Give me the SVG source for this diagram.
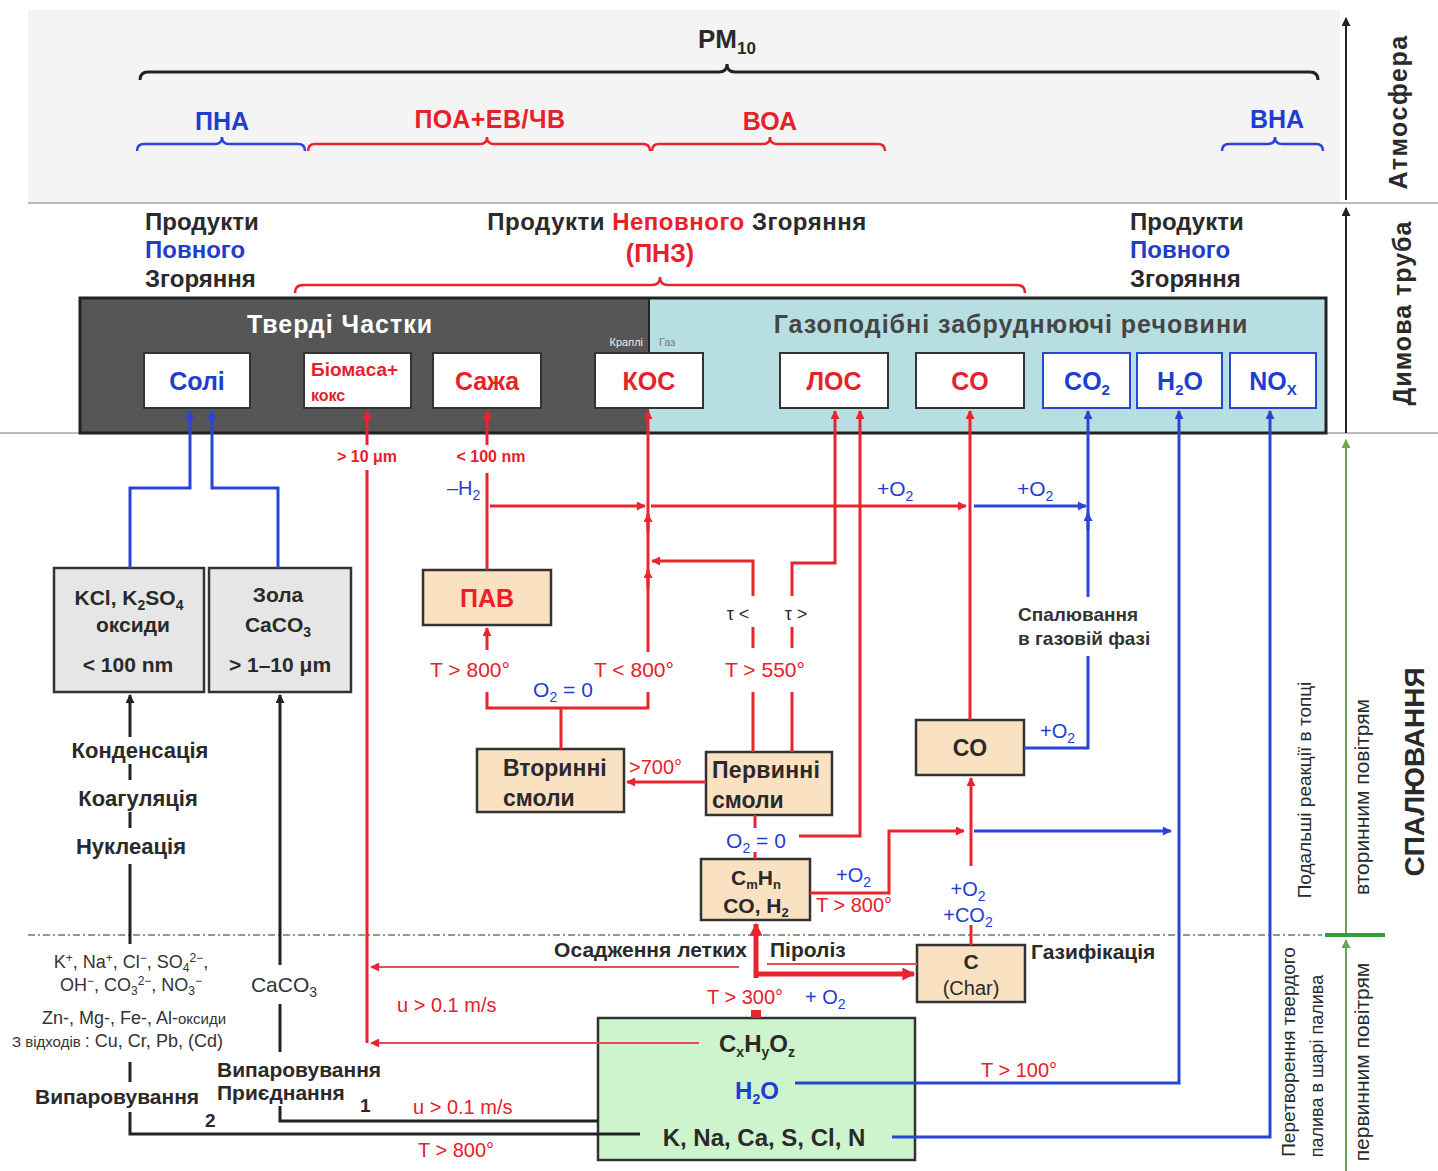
<svg xmlns="http://www.w3.org/2000/svg" width="1438" height="1171" viewBox="0 0 1438 1171">
<style>
text{font-family:"Liberation Sans",Arial,sans-serif}
.b{font-weight:bold}
.r{fill:#e8202a}
.u{fill:#1f3dcf}
.k{fill:#2a2a2a}
.w{fill:#fff}
.lr{fill:none;stroke:#e8252e;stroke-width:3}
.lrt{fill:none;stroke:#e8252e;stroke-width:5}
.lb{fill:none;stroke:#2b44d8;stroke-width:3}
.lk{fill:none;stroke:#222;stroke-width:3}
.lp{fill:none;stroke:#e0505a;stroke-width:2}
.node{fill:#fff;stroke:#333;stroke-width:2}
.nodeb{fill:#fff;stroke:#2b44d8;stroke-width:2}
.peach{fill:#f9e1c1;stroke:#333;stroke-width:2.5}
.grey{fill:#e6e6e6;stroke:#333;stroke-width:2.5}
</style>
<defs>
<marker id="aR" viewBox="0 0 10 10" refX="9" refY="5" markerWidth="11" markerHeight="9" markerUnits="userSpaceOnUse" orient="auto"><path d="M0,0 L10,5 L0,10 z" fill="#e8252e"/></marker>
<marker id="aR2" viewBox="0 0 10 10" refX="9" refY="5" markerWidth="15" markerHeight="13" markerUnits="userSpaceOnUse" orient="auto"><path d="M0,0 L10,5 L0,10 z" fill="#e8252e"/></marker>
<marker id="aB" viewBox="0 0 10 10" refX="9" refY="5" markerWidth="11" markerHeight="9" markerUnits="userSpaceOnUse" orient="auto"><path d="M0,0 L10,5 L0,10 z" fill="#2b44d8"/></marker>
<marker id="aK" viewBox="0 0 10 10" refX="9" refY="5" markerWidth="11" markerHeight="9" markerUnits="userSpaceOnUse" orient="auto"><path d="M0,0 L10,5 L0,10 z" fill="#222"/></marker>
<marker id="aG" viewBox="0 0 10 10" refX="9" refY="5" markerWidth="11" markerHeight="9" markerUnits="userSpaceOnUse" orient="auto"><path d="M0,0 L10,5 L0,10 z" fill="#6aa84f"/></marker>
</defs>

<rect x="0" y="0" width="1438" height="1171" fill="#fff"/>
<rect x="28" y="10" width="1312" height="192" fill="#f4f4f4"/>
<line x1="28" y1="203" x2="1438" y2="203" stroke="#bbb" stroke-width="2"/>
<line x1="0" y1="433" x2="1438" y2="433" stroke="#bbb" stroke-width="2"/>
<line x1="28" y1="935" x2="1322" y2="935" stroke="#8a9f8a" stroke-width="2" stroke-dasharray="7 3 2 3"/>

<!-- right axis -->
<g id="axis">
<line x1="1346" y1="200" x2="1346" y2="18" stroke="#222" stroke-width="2" marker-end="url(#aK)"/>
<line x1="1346" y1="433" x2="1346" y2="208" stroke="#222" stroke-width="2" marker-end="url(#aK)"/>
<line x1="1346" y1="933" x2="1346" y2="440" stroke="#6aa84f" stroke-width="2" marker-end="url(#aG)"/>
<line x1="1346" y1="1171" x2="1346" y2="940" stroke="#6aa84f" stroke-width="2" marker-end="url(#aG)"/>
<line x1="1325" y1="935" x2="1385" y2="935" stroke="#2e9e3e" stroke-width="4"/>
<text transform="translate(1407,112) rotate(-90)" text-anchor="middle" class="b k" font-size="25" letter-spacing="1.5">Атмосфера</text>
<text transform="translate(1411,313) rotate(-90)" text-anchor="middle" class="b k" font-size="25" letter-spacing="1">Димова труба</text>
<text transform="translate(1424,772) rotate(-90)" text-anchor="middle" class="b k" font-size="28">СПАЛЮВАННЯ</text>
<text transform="translate(1369,797) rotate(-90)" text-anchor="middle" class="k" font-size="21">вторинним повітрям</text>
<text transform="translate(1311,790) rotate(-90)" text-anchor="middle" class="k" font-size="19">Подальші реакції в топці</text>
<text transform="translate(1295,1052) rotate(-90)" text-anchor="middle" class="k" font-size="19">Перетворення твердого</text>
<text transform="translate(1323,1066) rotate(-90)" text-anchor="middle" class="k" font-size="18">палива в шарі палива</text>
<text transform="translate(1369,1062) rotate(-90)" text-anchor="middle" class="k" font-size="21">первинним повітрям</text>
</g>

<!-- atmosphere braces -->
<g id="atmosphere">
<text x="727" y="48" text-anchor="middle" class="b k" font-size="26">PM<tspan dy="6" font-size="17">10</tspan></text>
<path d="M140,80 Q140,72 148,72 L719,72 Q727,72 727,64 Q727,72 735,72 L1310,72 Q1318,72 1318,80" fill="none" stroke="#222" stroke-width="3"/>
<text x="222" y="130" text-anchor="middle" class="b u" font-size="25">ПНА</text>
<path d="M137,151 Q137,144 144,144 L215,144 Q222,144 222,137 Q222,144 229,144 L298,144 Q305,144 305,151" fill="none" stroke="#2b44d8" stroke-width="2.5"/>
<text x="490" y="128" text-anchor="middle" class="b r" font-size="25" letter-spacing="0.5">ПОА+ЕВ/ЧВ</text>
<path d="M308,151 Q308,144 315,144 L480,144 Q487,144 487,137 Q487,144 494,144 L643,144 Q650,144 650,151" fill="none" stroke="#e8252e" stroke-width="2.5"/>
<text x="770" y="130" text-anchor="middle" class="b r" font-size="25">ВОА</text>
<path d="M652,151 Q652,144 659,144 L763,144 Q770,144 770,137 Q770,144 777,144 L878,144 Q885,144 885,151" fill="none" stroke="#e8252e" stroke-width="2.5"/>
<text x="1277" y="128" text-anchor="middle" class="b u" font-size="25">ВНА</text>
<path d="M1222,151 Q1222,144 1229,144 L1268,144 Q1275,144 1275,137 Q1275,144 1282,144 L1316,144 Q1323,144 1323,151" fill="none" stroke="#2b44d8" stroke-width="2.5"/>
</g>

<!-- chimney labels -->
<g id="chimney-labels">
<text x="145" y="230" class="b k" font-size="24">Продукти</text>
<text x="145" y="258" class="b u" font-size="24">Повного</text>
<text x="145" y="287" class="b k" font-size="24">Згоряння</text>
<text x="677" y="230" text-anchor="middle" class="b k" font-size="24" letter-spacing="0.5">Продукти <tspan class="r">Неповного</tspan> Згоряння</text>
<text x="660" y="262" text-anchor="middle" class="b r" font-size="25">(ПНЗ)</text>
<path d="M295,293 Q295,285 303,285 L652,285 Q660,285 660,277 Q660,285 668,285 L1017,285 Q1025,285 1025,293" fill="none" stroke="#e8252e" stroke-width="2.5"/>
<text x="1130" y="230" class="b k" font-size="24">Продукти</text>
<text x="1130" y="258" class="b u" font-size="24">Повного</text>
<text x="1130" y="287" class="b k" font-size="24">Згоряння</text>
</g>

<!-- big box -->
<g id="stack-box">
<rect x="80" y="298" width="569" height="135" fill="#565656"/>
<rect x="649" y="298" width="677" height="135" fill="#b7dfe2"/>
<rect x="80" y="298" width="1246" height="135" fill="none" stroke="#222" stroke-width="3"/>
<line x1="649" y1="298" x2="649" y2="353" stroke="#222" stroke-width="2"/>
<text x="340" y="333" text-anchor="middle" class="b w" font-size="25" letter-spacing="1">Тверді Частки</text>
<text x="1011" y="333" text-anchor="middle" class="b" fill="#454545" font-size="25" letter-spacing="1">Газоподібні забруднюючі речовини</text>
<text x="643" y="346" text-anchor="end" fill="#eee" font-size="11">Краплі</text>
<text x="659" y="346" fill="#777" font-size="11">Газ</text>
</g>

<g id="n-soli"><rect class="node" x="144" y="353" width="106" height="55"/><text x="197" y="390" text-anchor="middle" class="b u" font-size="25">Солі</text></g>
<g id="n-biomasa"><rect class="node" x="304" y="353" width="107" height="55"/><text x="311" y="376" class="b r" font-size="19">Біомаса+</text><text x="311" y="401" class="b r" font-size="16">кокс</text></g>
<g id="n-sazha"><rect class="node" x="433" y="353" width="108" height="55"/><text x="487" y="390" text-anchor="middle" class="b r" font-size="25">Сажа</text></g>
<g id="n-kos"><rect class="node" x="595" y="353" width="108" height="55"/><text x="649" y="390" text-anchor="middle" class="b r" font-size="25">КОС</text></g>
<g id="n-los"><rect class="node" x="780" y="353" width="108" height="55"/><text x="834" y="390" text-anchor="middle" class="b r" font-size="25">ЛОС</text></g>
<g id="n-co-top"><rect class="node" x="916" y="353" width="108" height="55"/><text x="970" y="390" text-anchor="middle" class="b r" font-size="25">CO</text></g>
<g id="n-co2"><rect class="nodeb" x="1043" y="353" width="87" height="55"/><text x="1087" y="390" text-anchor="middle" class="b u" font-size="25">CO<tspan dy="5" font-size="15">2</tspan></text></g>
<g id="n-h2o"><rect class="nodeb" x="1137" y="353" width="85" height="55"/><text x="1180" y="390" text-anchor="middle" class="b u" font-size="25">H<tspan dy="5" font-size="15">2</tspan><tspan dy="-5">O</tspan></text></g>
<g id="n-nox"><rect class="nodeb" x="1230" y="353" width="86" height="55"/><text x="1273" y="390" text-anchor="middle" class="b u" font-size="25">NO<tspan dy="5" font-size="15">X</tspan></text></g>

<!-- lower nodes -->
<g id="n-kcl"><rect class="grey" x="54" y="568" width="150" height="124"/>
<text x="129" y="605" text-anchor="middle" class="b k" font-size="21">KCl, K<tspan dy="5" font-size="14">2</tspan><tspan dy="-5">SO</tspan><tspan dy="5" font-size="14">4</tspan></text>
<text x="133" y="632" text-anchor="middle" class="b k" font-size="21">оксиди</text>
<text x="128" y="672" text-anchor="middle" class="b k" font-size="21">&lt; 100 nm</text></g>
<g id="n-zola"><rect class="grey" x="209" y="568" width="142" height="124"/>
<text x="278" y="602" text-anchor="middle" class="b k" font-size="21">Зола</text>
<text x="278" y="632" text-anchor="middle" class="b k" font-size="21">CaCO<tspan dy="5" font-size="14">3</tspan></text>
<text x="280" y="672" text-anchor="middle" class="b k" font-size="21">&gt; 1–10 μm</text></g>
<g id="n-pav"><rect class="peach" x="423" y="570" width="128" height="55"/><text x="487" y="607" text-anchor="middle" class="b r" font-size="25">ПАВ</text></g>
<g id="n-vtor"><rect class="peach" x="477" y="749" width="147" height="63"/><text x="503" y="776" class="b k" font-size="23">Вторинні</text><text x="503" y="806" class="b k" font-size="23">смоли</text></g>
<g id="n-perv"><rect class="peach" x="706" y="752" width="126" height="63"/><text x="712" y="778" class="b k" font-size="23" letter-spacing="0.3">Первинні</text><text x="712" y="808" class="b k" font-size="23">смоли</text></g>
<g id="n-co-mid"><rect class="peach" x="916" y="720" width="108" height="55"/><text x="970" y="756" text-anchor="middle" class="b k" font-size="23">CO</text></g>
<g id="n-cmhn"><rect class="peach" x="701" y="859" width="109" height="61"/>
<text x="756" y="885" text-anchor="middle" class="b k" font-size="21">C<tspan dy="4" font-size="13">m</tspan><tspan dy="-4">H</tspan><tspan dy="4" font-size="13">n</tspan></text>
<text x="756" y="913" text-anchor="middle" class="b k" font-size="21">CO, H<tspan dy="4" font-size="13">2</tspan></text></g>
<g id="n-char"><rect class="peach" x="917" y="945" width="108" height="57"/>
<text x="971" y="969" text-anchor="middle" class="b k" font-size="21">C</text>
<text x="971" y="995" text-anchor="middle" class="k" font-size="20">(Char)</text></g>
<g id="n-fuel"><rect x="598" y="1018" width="317" height="142" fill="#cdf4cd" stroke="#333" stroke-width="2.5"/>
<text x="757" y="1052" text-anchor="middle" class="b k" font-size="24">C<tspan dy="5" font-size="14">x</tspan><tspan dy="-5">H</tspan><tspan dy="5" font-size="14">y</tspan><tspan dy="-5">O</tspan><tspan dy="5" font-size="14">z</tspan></text>
<text x="757" y="1099" text-anchor="middle" class="b u" font-size="24">H<tspan dy="5" font-size="14">2</tspan><tspan dy="-5">O</tspan></text>
<text x="764" y="1146" text-anchor="middle" class="b k" font-size="24">K, Na, Ca, S, Cl, N</text></g>

<!-- connectors -->
<g id="connectors">
<path class="lb" d="M130,568 V488 H190 V411" marker-end="url(#aB)"/>
<path class="lb" d="M278,568 V488 H212 V411" marker-end="url(#aB)"/>
<path class="lb" d="M974,506 H1086" marker-end="url(#aB)"/>
<path class="lb" d="M1024,748 H1088 V656"/>
<path class="lb" d="M1088,597 V411" marker-end="url(#aB)"/>
<path class="lb" d="M1088,530 V513" marker-end="url(#aB)"/>
<path class="lb" d="M795,1083 H1179 V411" marker-end="url(#aB)"/>
<path class="lb" d="M892,1137 H1270 V411" marker-end="url(#aB)"/>
<path class="lb" d="M974,831 H1171" marker-end="url(#aB)"/>
<path class="lr" d="M367,445 V411" marker-end="url(#aR)"/>
<path class="lr" d="M367,1043 V470"/>
<path class="lp" d="M739,967 H371" marker-end="url(#aR)"/>
<path class="lp" d="M699,1043 H371" marker-end="url(#aR)"/>
<path class="lr" d="M487,445 V411" marker-end="url(#aR)"/>
<path class="lr" d="M487,570 V473"/>
<path class="lr" d="M490,506 H645" marker-end="url(#aR)"/>
<path class="lr" d="M651,506 H966" marker-end="url(#aR)"/>
<path class="lr" d="M648,652 V411" marker-end="url(#aR)"/>
<path class="lr" d="M648,532 V514" marker-end="url(#aR)"/>
<path class="lr" d="M648,588 V570" marker-end="url(#aR)"/>
<path class="lr" d="M753,596 V561 H652" marker-end="url(#aR)"/>
<path class="lr" d="M753,627 V648"/>
<path class="lr" d="M753,692 V752"/>
<path class="lr" d="M792,752 V692"/>
<path class="lr" d="M792,648 V627"/>
<path class="lr" d="M792,596 V563 H835 V411" marker-end="url(#aR)"/>
<path class="lr" d="M799,836 H860 V411" marker-end="url(#aR)"/>
<path class="lr" d="M970,720 V411" marker-end="url(#aR)"/>
<path class="lr" d="M487,650 V628" marker-end="url(#aR)"/>
<path class="lr" d="M487,692 V708 H648 V692"/>
<path class="lr" d="M561,708 V749"/>
<path class="lr" d="M706,782 H627" marker-end="url(#aR)"/>
<path class="lr" d="M755,815 V828"/>
<path class="lr" d="M755,852 V859"/>
<path class="lr" d="M810,893 H889 V831 H964" marker-end="url(#aR)"/>
<path class="lr" d="M971,866 V778" marker-end="url(#aR)"/>
<path class="lr" d="M971,925 V945"/>
<path class="lrt" d="M756,978 V924" marker-end="url(#aR2)"/>
<path class="lrt" d="M754,974 H914" marker-end="url(#aR2)"/>
<rect x="751" y="1010" width="10" height="8" fill="#e8252e"/>
<path class="lp" d="M767,964 H917"/>
<path class="lk" d="M130,737 V695" marker-end="url(#aK)"/>
<path class="lk" d="M130,764 V780"/>
<path class="lk" d="M130,812 V828"/>
<path class="lk" d="M130,944 V864"/>
<path class="lk" d="M130,1062 V1082"/>
<path class="lk" d="M130,1112 V1134 H640"/>
<path class="lk" d="M280,965 V695" marker-end="url(#aK)"/>
<path class="lk" d="M280,1004 V1052"/>
<path class="lk" d="M280,1106 V1121 H598"/>
</g>

<!-- labels -->
<g id="labels">
<text x="367" y="462" text-anchor="middle" class="b r" font-size="16">&gt; 10 μm</text>
<text x="491" y="462" text-anchor="middle" class="b r" font-size="16">&lt; 100 nm</text>
<text x="447" y="495" class="u" font-size="20">–H<tspan dy="5" font-size="14">2</tspan></text>
<text x="877" y="496" class="u" font-size="21">+O<tspan dy="5" font-size="14">2</tspan></text>
<text x="1017" y="496" class="u" font-size="21">+O<tspan dy="5" font-size="14">2</tspan></text>
<text x="738" y="620" text-anchor="middle" class="k" font-size="18">τ &lt;</text>
<text x="796" y="620" text-anchor="middle" class="k" font-size="18">τ &gt;</text>
<text x="1018" y="621" class="b" fill="#333" font-size="19">Спалювання</text>
<text x="1018" y="645" class="b" fill="#333" font-size="19">в газовій фазі</text>
<text x="470" y="677" text-anchor="middle" class="r" font-size="21">T &gt; 800°</text>
<text x="634" y="677" text-anchor="middle" class="r" font-size="21">T &lt; 800°</text>
<text x="765" y="677" text-anchor="middle" class="r" font-size="21">T &gt; 550°</text>
<text x="563" y="697" text-anchor="middle" class="u" font-size="21">O<tspan dy="5" font-size="14">2</tspan><tspan dy="-5"> = 0</tspan></text>
<text x="1040" y="738" class="u" font-size="20">+O<tspan dy="5" font-size="14">2</tspan></text>
<text x="629" y="774" class="r" font-size="20">&gt;700°</text>
<text x="756" y="848" text-anchor="middle" class="u" font-size="21">O<tspan dy="5" font-size="14">2</tspan><tspan dy="-5"> = 0</tspan></text>
<text x="836" y="882" class="u" font-size="20">+O<tspan dy="5" font-size="14">2</tspan></text>
<text x="816" y="912" class="r" font-size="20">T &gt; 800°</text>
<text x="968" y="896" text-anchor="middle" class="u" font-size="20">+O<tspan dy="5" font-size="14">2</tspan></text>
<text x="968" y="922" text-anchor="middle" class="u" font-size="20">+CO<tspan dy="5" font-size="14">2</tspan></text>
<text x="140" y="758" text-anchor="middle" class="b k" font-size="22">Конденсація</text>
<text x="138" y="806" text-anchor="middle" class="b k" font-size="22">Коагуляція</text>
<text x="131" y="854" text-anchor="middle" class="b k" font-size="22">Нуклеація</text>
<text x="747" y="957" text-anchor="end" class="b k" font-size="21">Осадження летких</text>
<text x="770" y="957" class="b k" font-size="21">Піроліз</text>
<text x="1031" y="959" class="b k" font-size="21">Газифікація</text>
<text x="745" y="1004" text-anchor="middle" class="r" font-size="20">T &gt; 300°</text>
<text x="805" y="1004" class="u" font-size="20">+ O<tspan dy="5" font-size="14">2</tspan></text>
<text x="981" y="1077" class="r" font-size="20">T &gt; 100°</text>
<text x="397" y="1012" class="r" font-size="20">u &gt; 0.1 m/s</text>
<text x="413" y="1114" class="r" font-size="20">u &gt; 0.1 m/s</text>
<text x="418" y="1157" class="r" font-size="20">T &gt; 800°</text>
<text x="131" y="968" text-anchor="middle" fill="#333" font-size="18">K<tspan dy="-6" font-size="12">+</tspan><tspan dy="6">, Na</tspan><tspan dy="-6" font-size="12">+</tspan><tspan dy="6">, Cl</tspan><tspan dy="-6" font-size="12">−</tspan><tspan dy="6">, SO</tspan><tspan dy="4" font-size="12">4</tspan><tspan dy="-10" font-size="12">2−</tspan><tspan dy="6">,</tspan></text>
<text x="131" y="991" text-anchor="middle" fill="#333" font-size="18">OH<tspan dy="-6" font-size="12">−</tspan><tspan dy="6">, CO</tspan><tspan dy="4" font-size="12">3</tspan><tspan dy="-10" font-size="12">2−</tspan><tspan dy="6">, NO</tspan><tspan dy="4" font-size="12">3</tspan><tspan dy="-10" font-size="12">−</tspan></text>
<text x="284" y="992" text-anchor="middle" fill="#333" font-size="21">CaCO<tspan dy="5" font-size="14">3</tspan></text>
<text x="134" y="1024" text-anchor="middle" fill="#333" font-size="18">Zn-, Mg-, Fe-, Al-<tspan font-size="15">оксиди</tspan></text>
<text x="12" y="1047" fill="#333" font-size="18"><tspan font-size="15">З відходів </tspan> : Cu, Cr, Pb, (Cd)</text>
<text x="35" y="1104" class="b k" font-size="21">Випаровування</text>
<text x="217" y="1077" class="b k" font-size="21">Випаровування</text>
<text x="217" y="1100" class="b k" font-size="21">Приєднання</text>
<text x="205" y="1127" class="b k" font-size="19">2</text>
<text x="360" y="1112" class="b k" font-size="19">1</text>
</g>
</svg>
